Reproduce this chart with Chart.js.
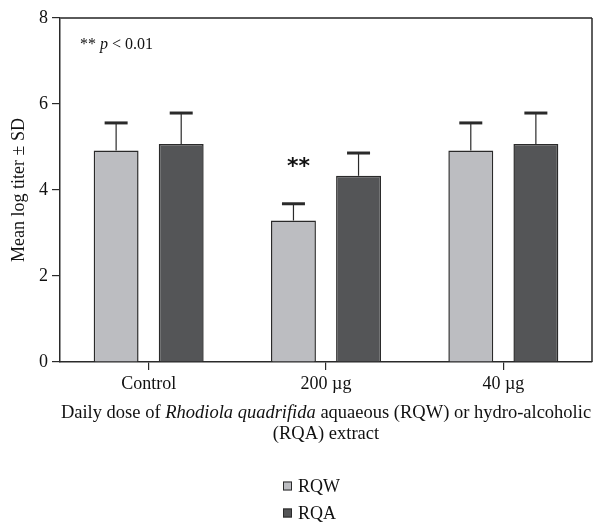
<!DOCTYPE html>
<html>
<head>
<meta charset="utf-8">
<script src="https://cdn.jsdelivr.net/npm/chart.js@4.4.0/dist/chart.umd.min.js"></script>
<style>
html, body { margin: 0; padding: 0; background: #fff; }
</style>
</head>
<body>
<canvas id="titerChart" width="595" height="525"></canvas>
<script>
// data
var doses = ['Control', '200 \u00b5g', '40 \u00b5g'];
var rqwMean = [4.92, 3.29, 4.92];
var rqwSD = [0.64, 0.39, 0.64];
var rqaMean = [5.07, 4.33, 5.07];
var rqaSD = [0.72, 0.53, 0.72];
var yTicks = [0, 2, 4, 6, 8];
var starLevel = 4.62; // where the ** sits over 200 ug RQW

var serif = "'Liberation Serif', 'Times New Roman', serif";
var lightGrey = '#bcbdc1';
var darkGrey = '#545557';
var ink = '#2a2a2a';

var extras = {
    id: 'extras',
    afterDatasetsDraw: function (chart) {
        var ctx = chart.ctx;
        var y = chart.scales.y;
        var sds = [rqwSD, rqaSD];
        var means = [rqwMean, rqaMean];
        ctx.save();
        ctx.strokeStyle = ink;
        chart.data.datasets.forEach(function (ds, di) {
            chart.getDatasetMeta(di).data.forEach(function (bar, i) {
                var top = y.getPixelForValue(means[di][i] + sds[di][i]);
                ctx.lineWidth = 1.2;
                ctx.beginPath();
                ctx.moveTo(bar.x, bar.y);
                ctx.lineTo(bar.x, top);
                ctx.stroke();
                ctx.lineWidth = 3;
                ctx.beginPath();
                ctx.moveTo(bar.x - 11.5, top);
                ctx.lineTo(bar.x + 11.5, top);
                ctx.stroke();
            });
        });
        ctx.restore();
    },
    afterDraw: function (chart) {
        var ctx = chart.ctx;
        var a = chart.chartArea;
        var y = chart.scales.y;
        ctx.save();

        // frame top and right
        ctx.strokeStyle = '#5a5a5a';
        ctx.lineWidth = 2;
        ctx.beginPath();
        ctx.moveTo(a.left, a.top);
        ctx.lineTo(a.right, a.top);
        ctx.stroke();
        ctx.strokeStyle = ink;
        ctx.lineWidth = 1.5;
        ctx.beginPath();
        ctx.moveTo(a.right, a.top);
        ctx.lineTo(a.right, a.bottom);
        ctx.stroke();

        // significance stars
        var b = chart.getDatasetMeta(0).data[1];
        ctx.fillStyle = '#111';
        ctx.font = "bold 22px 'DejaVu Sans'";
        ctx.textAlign = 'center';
        ctx.textBaseline = 'middle';
        ctx.fillText('**', b.x + 5, y.getPixelForValue(starLevel) + 4);

        // p-value note
        ctx.textAlign = 'left';
        ctx.textBaseline = 'middle';
        var px = a.left + 20, py = a.top + 27;
        ctx.font = '16px ' + serif;
        ctx.fillText('** ', px, py);
        px += ctx.measureText('** ').width;
        ctx.font = 'italic 16px ' + serif;
        ctx.fillText('p', px, py);
        px += ctx.measureText('p').width;
        ctx.font = '16px ' + serif;
        ctx.fillText(' < 0.01', px, py);

        // x axis title, mixed roman/italic
        var cx = (a.left + a.right) / 2;
        var size = '18.5px ';
        var parts = [['Daily dose of ', false], ['Rhodiola quadrifida', true], [' aquaeous (RQW) or hydro-alcoholic', false]];
        var w = 0;
        parts.forEach(function (p) {
            ctx.font = (p[1] ? 'italic ' : '') + size + serif;
            w += ctx.measureText(p[0]).width;
        });
        var tx = cx - w / 2;
        parts.forEach(function (p) {
            ctx.font = (p[1] ? 'italic ' : '') + size + serif;
            ctx.fillText(p[0], tx, 413);
            tx += ctx.measureText(p[0]).width;
        });
        ctx.font = size + serif;
        ctx.textAlign = 'center';
        ctx.fillText('(RQA) extract', cx, 434);

        // legend, stacked
        ctx.textAlign = 'left';
        chart.data.datasets.forEach(function (ds, i) {
            var ly = 486 + i * 27;
            ctx.fillStyle = ds.backgroundColor;
            ctx.fillRect(283, ly - 4.5, 9, 9);
            ctx.strokeStyle = ink;
            ctx.lineWidth = 1;
            ctx.strokeRect(283.5, ly - 4, 8, 8);
            ctx.fillStyle = '#111';
            ctx.font = '18px ' + serif;
            ctx.fillText(ds.label, 298, ly + 1);
        });
        ctx.restore();
    }
};

var ctx = document.getElementById('titerChart').getContext('2d');
var titerChart = new Chart(ctx, {
    type: 'bar',
    data: {
        labels: doses,
        datasets: [{
            label: 'RQW',
            data: rqwMean,
            backgroundColor: lightGrey,
            borderColor: ink,
            borderWidth: 1.5
        }, {
            label: 'RQA',
            data: rqaMean,
            backgroundColor: darkGrey,
            borderColor: ink,
            borderWidth: 1.5
        }]
    },
    options: {
        responsive: false,
        animation: false,
        devicePixelRatio: 1,
        categoryPercentage: 0.734,
        barPercentage: 0.69,
        layout: { padding: { left: 0, right: 3, top: 18, bottom: 0 } },
        plugins: {
            legend: { display: false },
            tooltip: { enabled: false }
        },
        scales: {
            x: {
                afterFit: function (scale) { scale.height = 163; },
                grid: { offset: false, drawOnChartArea: false, tickLength: 8, color: ink, lineWidth: 1.2 },
                border: { color: ink, width: 1.5 },
                ticks: { color: '#111', padding: 3, font: { family: serif, size: 18 } }
            },
            y: {
                min: 0,
                max: 8,
                afterFit: function (scale) { scale.width = 60; },
                afterBuildTicks: function (scale) {
                    scale.ticks = yTicks.map(function (v) { return { value: v }; });
                },
                grid: { drawOnChartArea: false, tickLength: 8, color: ink, lineWidth: 1.2 },
                border: { color: ink, width: 1.5 },
                ticks: { color: '#111', padding: 4, font: { family: serif, size: 18 } },
                title: {
                    display: true,
                    text: 'Mean log titer \u00b1 SD',
                    color: '#111',
                    padding: { top: 8, bottom: 0 },
                    font: { family: serif, size: 18 }
                }
            }
        }
    },
    plugins: [extras]
});
</script>
</body>
</html>
